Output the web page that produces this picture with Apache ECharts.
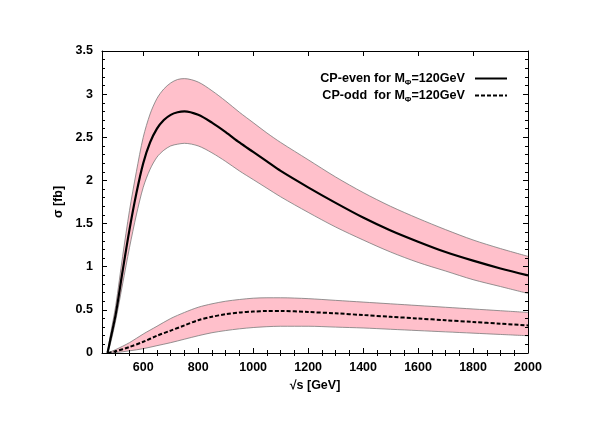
<!DOCTYPE html>
<html>
<head>
<meta charset="utf-8">
<script src="https://cdn.jsdelivr.net/npm/echarts@6/dist/echarts.min.js"></script>
<style>
  html, body { margin: 0; padding: 0; background: #fff; }
  #chart { width: 599px; height: 424px; }
</style>
</head>
<body>
<div id="chart"></div>
<script>
// sqrt(s) grid for the CP-even curves
const S_EVEN   = [470, 480, 500, 525, 550, 575, 600, 625, 650, 675, 700, 725, 750, 800, 850, 900, 950, 1000, 1050, 1100, 1200, 1300, 1400, 1500, 1600, 1700, 1800, 1900, 2000]
const EVEN_MID = [0, 0.15, 0.45, 0.95, 1.43, 1.85, 2.2, 2.44, 2.6, 2.7, 2.76, 2.79, 2.8, 2.76, 2.67, 2.56, 2.44, 2.33, 2.22, 2.11, 1.92, 1.74, 1.57, 1.42, 1.29, 1.17, 1.07, 0.98, 0.9]
const EVEN_UP  = [0, 0.2, 0.55, 1.12, 1.65, 2.1, 2.5, 2.77, 2.95, 3.06, 3.13, 3.17, 3.18, 3.14, 3.04, 2.92, 2.79, 2.67, 2.55, 2.44, 2.24, 2.04, 1.86, 1.7, 1.56, 1.43, 1.31, 1.21, 1.12]
const EVEN_LO  = [0, 0.1, 0.38, 0.8, 1.22, 1.6, 1.92, 2.13, 2.27, 2.35, 2.4, 2.42, 2.43, 2.4, 2.32, 2.22, 2.11, 2.01, 1.91, 1.81, 1.63, 1.46, 1.31, 1.17, 1.05, 0.95, 0.85, 0.77, 0.69]

// sqrt(s) grid for the CP-odd curves
const S_ODD    = [470, 500, 550, 600, 650, 700, 750, 800, 850, 900, 950, 1000, 1050, 1100, 1200, 1300, 1400, 1500, 1600, 1700, 1800, 1900, 2000]
const ODD_MID  = [0, 0.02, 0.07, 0.13, 0.2, 0.26, 0.32, 0.38, 0.42, 0.45, 0.47, 0.48, 0.487, 0.488, 0.475, 0.46, 0.44, 0.42, 0.4, 0.38, 0.36, 0.34, 0.32]
const ODD_UP   = [0, 0.04, 0.12, 0.22, 0.31, 0.4, 0.47, 0.53, 0.57, 0.6, 0.62, 0.635, 0.64, 0.64, 0.63, 0.61, 0.59, 0.57, 0.55, 0.53, 0.51, 0.49, 0.47]
const ODD_LO   = [0, 0.005, 0.025, 0.05, 0.085, 0.12, 0.16, 0.2, 0.235, 0.26, 0.28, 0.295, 0.305, 0.31, 0.31, 0.3, 0.29, 0.275, 0.26, 0.245, 0.23, 0.215, 0.2]

const X_TICKS  = [600, 800, 1000, 1200, 1400, 1600, 1800, 2000]
const X_MINOR  = [500, 550, 650, 700, 750, 850, 900, 950, 1050, 1100, 1150, 1250, 1300, 1350, 1450, 1500, 1550, 1650, 1700, 1750, 1850, 1900, 1950]

const FONT  = 'Liberation Sans'
const PINK  = '#ffc0cb'
const EDGE  = '#7a7a7a'
const SMOOTH = 0.3
const zip = (xs, ys) => xs.map((x, i) => [x, ys[i]])

// band = pink area under the upper curve, white area under the lower one
function fill(xs, ys, color) {
  return { type: 'line', symbol: 'none', smooth: SMOOTH, silent: true, z: 1, data: zip(xs, ys),
    lineStyle: { width: 0 }, areaStyle: { color, opacity: 1, origin: 'start' } }
}
function edge(xs, ys) {
  return { type: 'line', symbol: 'none', smooth: SMOOTH, silent: true, z: 2, data: zip(xs, ys),
    lineStyle: { color: EDGE, width: 0.8 } }
}

const textRich = {
  a:   { fontFamily: FONT, fontWeight: 'bold', fontSize: 12.6, color: '#000', lineHeight: 16, verticalAlign: 'middle' },
  sub: { fontFamily: FONT, fontWeight: 'bold', fontSize: 8,  color: '#000', lineHeight: 16, verticalAlign: 'bottom' },
}
const legendLabel = {
  even: '{a|CP-even for M}{sub|Φ}{a|=120GeV}',
  odd:  '{a|CP-odd  for M}{sub|Φ}{a|=120GeV}',
}
const legendBase = {
  orient: 'vertical', right: 86, align: 'right', itemWidth: 32, itemHeight: 12,
  selectedMode: false, formatter: n => legendLabel[n],
  itemStyle: { opacity: 0 },
  textStyle: { padding: [0, 5, 0, 0], rich: textRich },
}

const axisFont = { fontFamily: FONT, fontWeight: 'bold', fontSize: 12.5, color: '#000' }
const axisLine = { show: true, onZero: false, lineStyle: { color: '#000', width: 1 } }
function xAxis(position, ticks, len, line, labels) {
  return {
    type: 'value', min: 450, max: 2000, position, z: 10,
    axisLine: line ? axisLine : { show: false },
    axisTick: { inside: true, length: len, customValues: ticks, lineStyle: { color: '#000' } },
    axisLabel: labels
      ? { show: true, customValues: ticks, margin: 8, formatter: v => String(v), ...axisFont }
      : { show: false },
    splitLine: { show: false },
    ...(labels
      ? { name: '√s [GeV]', nameLocation: 'middle', nameGap: 23, nameTextStyle: axisFont }
      : {}),
  }
}
function yAxis(position, labels) {
  return {
    type: 'value', min: 0, max: 3.5, interval: 0.5, position, z: 10,
    axisLine,
    axisTick: { inside: true, length: 5, lineStyle: { color: '#000' } },
    minorTick: { show: true, splitNumber: 5, length: 3, lineStyle: { color: '#000' } },
    axisLabel: labels ? { margin: 9, ...axisFont } : { show: false },
    splitLine: { show: false },
    ...(labels
      ? { name: 'σ [fb]', nameLocation: 'middle', nameGap: 25, nameTextStyle: axisFont }
      : {}),
  }
}

const chart = echarts.init(document.getElementById('chart'), null, { renderer: 'canvas' })
chart.setOption({
  backgroundColor: '#fff',
  animation: false,
  grid: { left: 102, right: 71, top: 51, bottom: 71 },
  xAxis: [
    xAxis('bottom', X_TICKS, 5, true, true),
    xAxis('bottom', X_MINOR, 3, false, false),
    xAxis('top', X_TICKS, 5, true, false),
    xAxis('top', X_MINOR, 3, false, false),
  ],
  yAxis: [yAxis('left', true), yAxis('right', false)],
  legend: [
    { ...legendBase, top: 67, data: ['even'] },
    { ...legendBase, top: 84, data: ['odd'] },
  ],
  series: [
    fill(S_EVEN, EVEN_UP, PINK),
    fill(S_EVEN, EVEN_LO, '#fff'),
    fill(S_ODD, ODD_UP, PINK),
    fill(S_ODD, ODD_LO, '#fff'),
    edge(S_EVEN, EVEN_UP),
    edge(S_EVEN, EVEN_LO),
    edge(S_ODD, ODD_UP),
    edge(S_ODD, ODD_LO),
    { name: 'odd', type: 'line', symbol: 'none', smooth: SMOOTH, z: 3, color: '#000',
      data: zip(S_ODD, ODD_MID), lineStyle: { color: '#000', width: 2, type: [4, 2] } },
    { name: 'even', type: 'line', symbol: 'none', smooth: SMOOTH, z: 3, color: '#000',
      data: zip(S_EVEN, EVEN_MID), lineStyle: { color: '#000', width: 2.2 } },
  ],
})
</script>
</body>
</html>
